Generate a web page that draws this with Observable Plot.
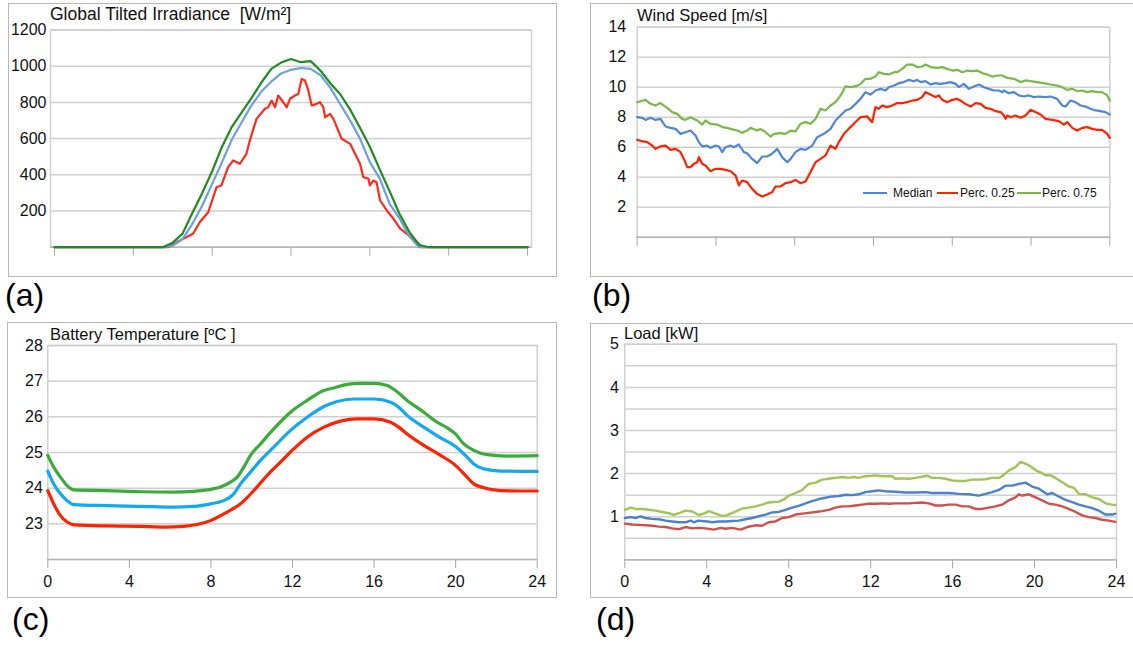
<!DOCTYPE html>
<html><head><meta charset="utf-8">
<script src="https://cdn.jsdelivr.net/npm/d3@7"></script>
<script src="https://cdn.jsdelivr.net/npm/@observablehq/plot@0.6"></script>
<style>
body{margin:0;background:#fff;font-family:"Liberation Sans",Arial,sans-serif;}
#root{position:relative;width:1133px;height:645px;overflow:hidden;background:#fff;}
.box{position:absolute;border:1px solid #b8b8b8;box-sizing:border-box;}
.title{position:absolute;font-size:16.5px;line-height:1;color:#111;white-space:pre;}
.tag{position:absolute;font-size:32px;line-height:1;color:#000;}
.leg{position:absolute;font-size:12px;line-height:1;color:#111;white-space:pre;}
.sw{position:absolute;height:2.5px;}
</style></head><body><div id="root"></div>
<script>
// ---------- DATA ----------
const hourTicks = [0, 4, 8, 12, 16, 20, 24];

// (a) Global tilted irradiance [W/m2]  -- [hour, value]
const giMedian = [[0,0],[5.5,0],[6,8],[6.5,45],[7,130],[7.5,230],[8,350],[8.5,470],[9,595],[9.5,690],[10,785],[10.5,860],[11,915],[11.5,960],[12,980],[12.5,990],[13,985],[13.5,950],[14,880],[14.5,790],[15,700],[15.5,600],[16,470],[16.5,380],[17,240],[17.5,160],[18,60],[18.5,0],[19,0],[24,0]];
const giP25 = [[0,0],[5.76,0],[6.36,37],[7.03,74],[7.37,138],[7.80,193],[8.22,331],[8.47,341],[8.81,442],[9.07,479],[9.41,461],[9.74,516],[9.91,589],[10.25,709],[10.68,765],[10.84,773],[11.02,810],[11.19,773],[11.35,838],[11.61,801],[11.78,773],[11.95,820],[12.2,838],[12.37,847],[12.54,930],[12.71,921],[12.88,866],[13.05,783],[13.3,792],[13.47,801],[13.64,773],[13.73,718],[13.98,737],[14.15,709],[14.57,599],[15.0,571],[15.5,461],[15.67,387],[15.93,378],[16.0,341],[16.17,368],[16.34,359],[16.52,258],[16.86,203],[17.2,157],[17.54,102],[17.88,74],[18.39,28],[18.64,0],[24,0]];
const giP75 = [[0,0],[5.5,0],[6,25],[6.5,75],[7,190],[7.5,300],[8,420],[8.5,555],[9,665],[9.5,745],[10,825],[10.5,910],[11,985],[11.5,1020],[12,1040],[12.5,1022],[13,1028],[13.5,975],[14,905],[14.5,845],[15,760],[15.5,660],[16,555],[16.5,430],[17,310],[17.5,185],[18,85],[18.5,12],[19,0],[24,0]];
const giTicks = [200, 400, 600, 800, 1000, 1200];

// (b) Wind speed [m/s]
const windMedian = [[0,8.00],[0.25,7.96],[0.42,7.82],[0.68,7.96],[0.93,7.82],[1.18,7.89],[1.44,7.38],[1.69,7.29],[1.95,7.22],[2.20,6.89],[2.45,7.00],[2.71,7.11],[2.96,6.78],[3.13,6.34],[3.30,6.05],[3.55,6.11],[3.72,5.96],[3.98,6.11],[4.15,6.05],[4.32,5.67],[4.48,6.00],[4.74,6.11],[4.91,6.00],[5.16,6.18],[5.42,5.67],[5.58,5.60],[5.84,5.22],[6.09,4.94],[6.35,5.38],[6.60,5.38],[6.85,5.56],[7.11,5.89],[7.36,5.34],[7.62,5.00],[7.79,5.22],[8.04,5.67],[8.29,5.89],[8.55,5.82],[8.89,6.11],[9.14,6.67],[9.48,6.89],[9.82,7.22],[10.07,7.78],[10.33,8.11],[10.58,8.45],[10.83,8.56],[11.09,8.89],[11.34,9.22],[11.59,9.67],[11.85,9.51],[12.10,9.78],[12.36,9.89],[12.61,9.78],[12.78,10.00],[13.04,10.11],[13.29,10.27],[13.54,10.34],[13.80,10.49],[14.05,10.40],[14.22,10.49],[14.39,10.34],[14.64,10.40],[14.90,10.18],[15.15,10.27],[15.40,10.22],[15.66,10.27],[15.91,10.34],[16.17,10.22],[16.34,10.00],[16.59,10.22],[16.84,9.89],[17.10,10.05],[17.35,10.18],[17.61,10.00],[17.86,9.89],[18.11,9.78],[18.37,9.78],[18.54,9.67],[18.62,9.78],[18.87,9.60],[19.13,9.67],[19.38,9.45],[19.64,9.38],[19.89,9.45],[20.14,9.34],[20.40,9.38],[20.74,9.34],[20.99,9.38],[21.33,9.22],[21.58,8.78],[21.75,8.71],[22.01,9.11],[22.26,9.00],[22.51,8.78],[22.77,8.71],[23.02,8.56],[23.28,8.45],[23.53,8.40],[23.78,8.34],[24.00,8.18]];
const windP25 = [[0,6.49],[0.25,6.40],[0.51,6.34],[0.76,6.11],[0.93,5.89],[1.18,6.05],[1.44,6.11],[1.69,5.82],[1.95,5.89],[2.20,5.67],[2.37,5.22],[2.54,4.67],[2.71,4.67],[2.88,4.89],[3.05,5.00],[3.13,5.34],[3.30,4.89],[3.47,4.78],[3.72,4.40],[3.98,4.56],[4.23,4.56],[4.48,4.49],[4.74,4.40],[5.00,4.11],[5.16,3.45],[5.33,3.78],[5.58,3.67],[5.84,3.22],[6.09,2.89],[6.35,2.71],[6.60,2.85],[6.85,3.00],[7.02,3.38],[7.28,3.38],[7.53,3.60],[7.79,3.67],[8.04,3.82],[8.29,3.60],[8.55,3.71],[8.80,4.34],[9.06,5.00],[9.31,5.22],[9.56,5.45],[9.82,6.11],[10.07,5.89],[10.24,6.34],[10.50,6.89],[10.83,7.34],[11.00,7.56],[11.17,7.78],[11.34,8.00],[11.68,8.05],[11.85,7.78],[11.93,7.67],[12.10,8.67],[12.27,8.56],[12.44,8.78],[12.69,8.67],[12.95,8.78],[13.20,8.94],[13.46,8.94],[13.71,9.00],[13.97,9.11],[14.22,9.16],[14.47,9.34],[14.64,9.67],[14.81,9.56],[14.98,9.45],[15.15,9.34],[15.32,9.45],[15.49,9.16],[15.74,9.00],[16.00,9.16],[16.25,9.22],[16.42,9.11],[16.67,8.89],[16.93,8.71],[17.18,8.94],[17.44,8.89],[17.69,8.62],[17.94,8.56],[18.20,8.40],[18.46,8.34],[18.62,8.11],[18.71,7.89],[18.79,8.11],[18.96,8.00],[19.21,8.11],[19.47,7.96],[19.72,8.11],[19.97,8.49],[20.22,8.34],[20.48,8.18],[20.74,7.89],[21.08,7.82],[21.41,7.74],[21.67,7.51],[21.84,7.67],[22.09,7.29],[22.35,7.11],[22.60,7.29],[22.85,7.34],[23.11,7.22],[23.36,7.16],[23.61,7.16],[23.87,6.89],[24.00,6.62]];
const windP75 = [[0,9.00],[0.42,9.16],[0.68,8.89],[0.93,8.78],[1.18,8.94],[1.52,8.62],[1.78,8.34],[2.03,8.22],[2.28,7.89],[2.45,7.82],[2.71,8.00],[3.05,7.78],[3.30,7.51],[3.47,7.78],[3.72,7.56],[4.06,7.51],[4.32,7.34],[4.57,7.29],[4.74,7.22],[5.08,7.11],[5.33,6.96],[5.58,7.11],[5.75,7.29],[6.09,7.11],[6.26,7.22],[6.52,7.00],[6.77,6.71],[6.94,6.89],[7.28,6.94],[7.53,6.89],[7.79,7.11],[8.04,7.05],[8.29,7.56],[8.55,7.67],[8.80,7.56],[9.06,7.89],[9.31,8.56],[9.56,8.45],[9.82,8.78],[10.07,9.00],[10.33,9.45],[10.58,10.05],[10.83,10.00],[11.17,10.09],[11.34,10.22],[11.59,10.56],[11.85,10.56],[12.10,10.71],[12.27,11.00],[12.53,10.89],[12.78,10.85],[13.04,11.00],[13.21,11.00],[13.46,11.22],[13.71,11.51],[13.97,11.51],[14.22,11.34],[14.47,11.38],[14.64,11.51],[14.90,11.34],[15.24,11.29],[15.49,11.34],[15.74,11.22],[16.00,11.11],[16.25,11.16],[16.51,11.00],[16.76,11.11],[17.01,11.07],[17.26,11.11],[17.52,10.94],[17.77,10.85],[18.03,10.71],[18.28,10.78],[18.54,10.78],[18.79,10.62],[19.13,10.56],[19.47,10.34],[19.72,10.45],[19.97,10.40],[20.31,10.34],[20.65,10.27],[20.99,10.18],[21.33,10.11],[21.58,10.00],[21.83,9.82],[22.09,9.89],[22.34,9.74],[22.60,9.78],[22.85,9.67],[23.11,9.74],[23.36,9.67],[23.61,9.67],[23.87,9.45],[24.00,9.11]];
const windTicks = [2, 4, 6, 8, 10, 12, 14];
const windLegend = ["Median", "Perc. 0.25", "Perc. 0.75"];

// (c) Battery temperature [ºC]
const tempMedian = [[0,24.48],[0.29,24.12],[0.62,23.84],[0.95,23.65],[1.28,23.54],[2.91,23.51],[4.54,23.49],[6.18,23.47],[7.16,23.49],[7.98,23.56],[8.63,23.65],[9.12,23.84],[9.45,24.12],[9.94,24.45],[10.43,24.78],[11.08,25.15],[11.90,25.62],[12.72,25.99],[13.54,26.29],[14.19,26.43],[15.01,26.50],[15.99,26.50],[16.81,26.41],[17.21,26.27],[17.62,26.04],[18.44,25.71],[19.26,25.41],[19.99,25.17],[20.48,24.92],[20.89,24.68],[21.38,24.54],[22.20,24.48],[24,24.47]];
const tempP25 = [[0,23.93],[0.29,23.56],[0.62,23.23],[0.95,23.05],[1.28,22.97],[2.91,22.94],[4.54,22.93],[5.69,22.91],[6.67,22.93],[7.32,22.98],[7.98,23.09],[8.80,23.33],[9.45,23.56],[10.10,23.93],[10.76,24.36],[11.41,24.73],[12.06,25.10],[12.72,25.43],[13.54,25.71],[14.35,25.88],[15.17,25.94],[15.99,25.94],[16.81,25.85],[17.21,25.71],[17.62,25.52],[18.44,25.20],[19.26,24.92],[19.99,24.64],[20.48,24.36],[20.89,24.12],[21.38,24.01],[22.20,23.93],[24,23.92]];
const tempP75 = [[0,24.92],[0.29,24.59],[0.62,24.31],[0.95,24.07],[1.28,23.95],[2.91,23.93],[4.54,23.90],[6.18,23.89],[7.16,23.91],[7.81,23.95],[8.47,24.03],[8.96,24.17],[9.29,24.31],[9.61,24.59],[9.94,24.92],[10.43,25.24],[11.08,25.66],[11.90,26.13],[12.72,26.46],[13.54,26.74],[14.03,26.81],[14.68,26.91],[15.33,26.94],[15.99,26.94],[16.64,26.88],[17.05,26.74],[17.62,26.46],[18.44,26.13],[19.09,25.85],[19.59,25.69],[19.99,25.52],[20.40,25.24],[20.89,25.06],[21.55,24.94],[22.53,24.90],[24,24.91]];
const tempTicks = [23, 24, 25, 26, 27, 28];

// (d) Load [kW]
const loadMedian = [[0,0.97],[0.28,0.99],[0.52,0.97],[0.76,1.01],[1.01,0.97],[1.33,0.95],[1.66,0.94],[1.99,0.91],[2.31,0.89],[2.64,0.87],[2.96,0.87],[3.21,0.91],[3.37,0.87],[3.58,0.91],[3.77,0.90],[4.02,0.89],[4.26,0.87],[4.59,0.89],[4.91,0.89],[5.24,0.90],[5.56,0.91],[5.89,0.94],[6.22,0.97],[6.54,1.01],[6.87,1.05],[7.19,1.10],[7.52,1.11],[7.84,1.16],[8.17,1.21],[8.49,1.25],[8.82,1.31],[9.14,1.36],[9.47,1.41],[9.80,1.44],[10.12,1.47],[10.45,1.48],[10.77,1.51],[11.10,1.50],[11.42,1.52],[11.75,1.57],[12.07,1.59],[12.40,1.61],[12.72,1.59],[13.21,1.58],[13.70,1.56],[14.19,1.56],[14.68,1.57],[15.00,1.55],[15.33,1.55],[15.82,1.55],[16.30,1.53],[16.79,1.52],[17.28,1.49],[17.61,1.53],[17.93,1.57],[18.26,1.62],[18.58,1.72],[18.91,1.72],[19.23,1.76],[19.56,1.79],[19.88,1.70],[20.21,1.65],[20.62,1.52],[20.86,1.55],[21.18,1.47],[21.51,1.39],[21.84,1.34],[22.16,1.28],[22.49,1.24],[22.81,1.20],[23.14,1.14],[23.46,1.05],[23.79,1.05],[23.95,1.07]];
const loadP25 = [[0,0.84],[0.36,0.82],[0.68,0.81],[1.01,0.80],[1.33,0.79],[1.66,0.77],[1.99,0.76],[2.31,0.73],[2.64,0.71],[2.96,0.76],[3.29,0.73],[3.61,0.74],[3.94,0.73],[4.34,0.70],[4.67,0.74],[4.91,0.72],[5.24,0.74],[5.65,0.70],[5.97,0.76],[6.38,0.80],[6.70,0.79],[7.03,0.87],[7.35,0.89],[7.68,0.97],[8.01,0.99],[8.33,1.05],[8.66,1.07],[8.98,1.09],[9.31,1.11],[9.63,1.13],[9.96,1.16],[10.28,1.21],[10.61,1.24],[10.93,1.24],[11.26,1.26],[11.58,1.28],[11.91,1.30],[12.24,1.30],[12.56,1.31],[12.89,1.30],[13.21,1.31],[13.54,1.31],[13.86,1.31],[14.19,1.32],[14.51,1.33],[14.84,1.31],[15.16,1.26],[15.49,1.26],[15.82,1.28],[16.14,1.28],[16.47,1.24],[16.79,1.24],[17.12,1.18],[17.44,1.18],[17.77,1.21],[18.09,1.24],[18.42,1.28],[18.74,1.38],[19.07,1.45],[19.23,1.52],[19.40,1.49],[19.72,1.52],[20.05,1.45],[20.37,1.38],[20.70,1.30],[21.02,1.28],[21.35,1.24],[21.67,1.18],[22.00,1.11],[22.33,1.03],[22.65,0.99],[22.98,0.97],[23.30,0.93],[23.63,0.91],[23.95,0.88]];
const loadP75 = [[0,1.16],[0.28,1.21],[0.52,1.18],[0.85,1.18],[1.17,1.16],[1.50,1.14],[1.82,1.11],[2.15,1.08],[2.39,1.04],[2.64,1.08],[2.96,1.14],[3.29,1.12],[3.61,1.04],[3.86,1.07],[4.10,1.13],[4.43,1.07],[4.67,1.03],[4.91,1.02],[5.16,1.07],[5.40,1.12],[5.73,1.19],[6.05,1.21],[6.38,1.24],[6.70,1.28],[7.03,1.33],[7.52,1.35],[7.76,1.40],[8.01,1.49],[8.33,1.55],[8.66,1.62],[8.98,1.76],[9.31,1.79],[9.63,1.86],[9.96,1.88],[10.28,1.90],[10.61,1.92],[10.93,1.90],[11.18,1.92],[11.42,1.90],[11.75,1.94],[12.07,1.95],[12.24,1.96],[12.56,1.94],[13.05,1.94],[13.21,1.88],[13.54,1.89],[13.86,1.88],[14.19,1.90],[14.76,1.95],[15.00,1.90],[15.33,1.90],[15.65,1.88],[15.98,1.84],[16.30,1.83],[16.63,1.83],[16.95,1.86],[17.28,1.86],[17.61,1.87],[17.93,1.90],[18.26,1.90],[18.50,1.97],[18.74,2.07],[19.07,2.15],[19.31,2.27],[19.56,2.23],[19.80,2.17],[20.08,2.07],[20.29,2.03],[20.53,1.96],[20.78,1.96],[21.02,1.90],[21.35,1.80],[21.67,1.70],[21.92,1.67],[22.16,1.53],[22.49,1.52],[22.81,1.45],[23.14,1.41],[23.46,1.31],[23.79,1.28],[23.95,1.27]];
const loadTicks = [1, 2, 3, 4, 5];
const loadGrid = [0.5, 1, 1.5, 2, 2.5, 3, 3.5, 4, 4.5, 5];

// ---------- DRAWING ----------
const root = document.getElementById("root");
const FONT = "'Liberation Sans', Arial, sans-serif";

function el(cls, css, html) {
  const d = document.createElement("div");
  d.className = cls;
  Object.assign(d.style, css);
  if (html != null) d.innerHTML = html;
  root.append(d);
  return d;
}

function panel(o) {
  const marks = [
    Plot.gridY(o.grid, {stroke: "#d0d0d0", strokeOpacity: 1, strokeWidth: 1.5}),
    Plot.frame({stroke: "#d0d0d0", strokeWidth: 1.5}),
    Plot.ruleY([o.yDomain[0]], {stroke: "#b5b5b5", strokeWidth: 1.5}),
    Plot.axisY(o.labels, {tickSize: 0, tickPadding: o.tickPadding, fill: "#111", fontSize: 16, label: null,
      tickFormat: d => String(d)}),
    Plot.axisX(hourTicks, {tickSize: 9, stroke: "#a8a8a8", tickPadding: 7, fill: "#111", fontSize: 16, label: null,
      tickFormat: o.showX ? (d => String(d)) : (() => "")}),
    ...o.series.map(s => Plot.line(s.data, {x: d => d[0], y: d => d[1], stroke: s.color,
      strokeWidth: o.strokeWidth, curve: o.curve || "linear", strokeLinejoin: "round"}))
  ];
  const svg = Plot.plot({
    width: o.width, height: o.height,
    marginTop: o.m[0], marginRight: o.m[1], marginBottom: o.m[2], marginLeft: o.m[3],
    x: {domain: o.xDomain}, y: {domain: o.yDomain},
    style: {background: "transparent", fontFamily: FONT, overflow: "visible"},
    marks
  });
  Object.assign(svg.style, {position: "absolute", left: o.left + "px", top: o.top + "px"});
  root.append(svg);
}

// boxes
el("box", {left: "8px", top: "3px", width: "549px", height: "274px"});
el("box", {left: "590px", top: "3px", width: "560px", height: "274px"});
el("box", {left: "7px", top: "322px", width: "550px", height: "276px"});
el("box", {left: "590px", top: "323px", width: "560px", height: "275px"});

// (a)
panel({left: 8, top: 3, width: 548, height: 273, m: [26.5, 25, 29.3, 42],
  xDomain: [-0.2, 24.2], yDomain: [0, 1200], grid: giTicks, labels: giTicks, tickPadding: 4, showX: false,
  strokeWidth: 2.2,
  series: [{data: giP25, color: "#ff2b1c"}, {data: giMedian, color: "#6f9fdf"}, {data: giP75, color: "#1e8c1e"}]});

// (b)
panel({left: 590, top: 3, width: 543, height: 273, m: [23.7, 23.7, 39.3, 46.7],
  xDomain: [0, 24], yDomain: [0, 14], grid: windTicks, labels: windTicks, tickPadding: 11, showX: false,
  strokeWidth: 2.2,
  series: [{data: windMedian, color: "#4f87d8"}, {data: windP25, color: "#ff2200"}, {data: windP75, color: "#7ab84a"}]});

// (c)
panel({left: 7, top: 322, width: 549, height: 275, m: [23, 19.3, 38, 40.3],
  xDomain: [0, 24], yDomain: [22, 28], grid: tempTicks, labels: tempTicks, tickPadding: 5, showX: true,
  strokeWidth: 3.2, curve: "monotone-x",
  series: [{data: tempP75, color: "#3cab3c"}, {data: tempMedian, color: "#12a9f0"}, {data: tempP25, color: "#ff2200"}]});

// (d)
panel({left: 590, top: 323, width: 543, height: 274, m: [20.8, 17, 37.7, 34.3],
  xDomain: [0, 24], yDomain: [0, 5], grid: loadGrid, labels: loadTicks, tickPadding: 6, showX: true,
  strokeWidth: 2.4,
  series: [{data: loadP75, color: "#a2c457"}, {data: loadMedian, color: "#4a82cc"}, {data: loadP25, color: "#d0504a"}]});

// titles
el("title", {left: "50px", top: "5.5px", fontSize: "17.5px"}, "Global Tilted Irradiance  [W/m²]");
el("title", {left: "637px", top: "7px"}, "Wind Speed [m/s]");
el("title", {left: "50px", top: "326px"}, "Battery Temperature [ºC ]");
el("title", {left: "624px", top: "325px"}, "Load [kW]");

// panel tags
el("tag", {left: "5px", top: "279px"}, "(a)");
el("tag", {left: "592px", top: "279px"}, "(b)");
el("tag", {left: "12px", top: "603px"}, "(c)");
el("tag", {left: "596px", top: "603px"}, "(d)");

// legend of (b)
const legColors = ["#4f87d8", "#ff2200", "#7ab84a"];
const swX = [863, 937, 1017], txX = [893, 960, 1042];
windLegend.forEach((name, i) => {
  el("sw", {left: swX[i] + "px", top: "191.5px", width: (i === 1 ? 21 : 24) + "px", background: legColors[i]});
  el("leg", {left: txX[i] + "px", top: "186.5px"}, name);
});
</script></body></html>
